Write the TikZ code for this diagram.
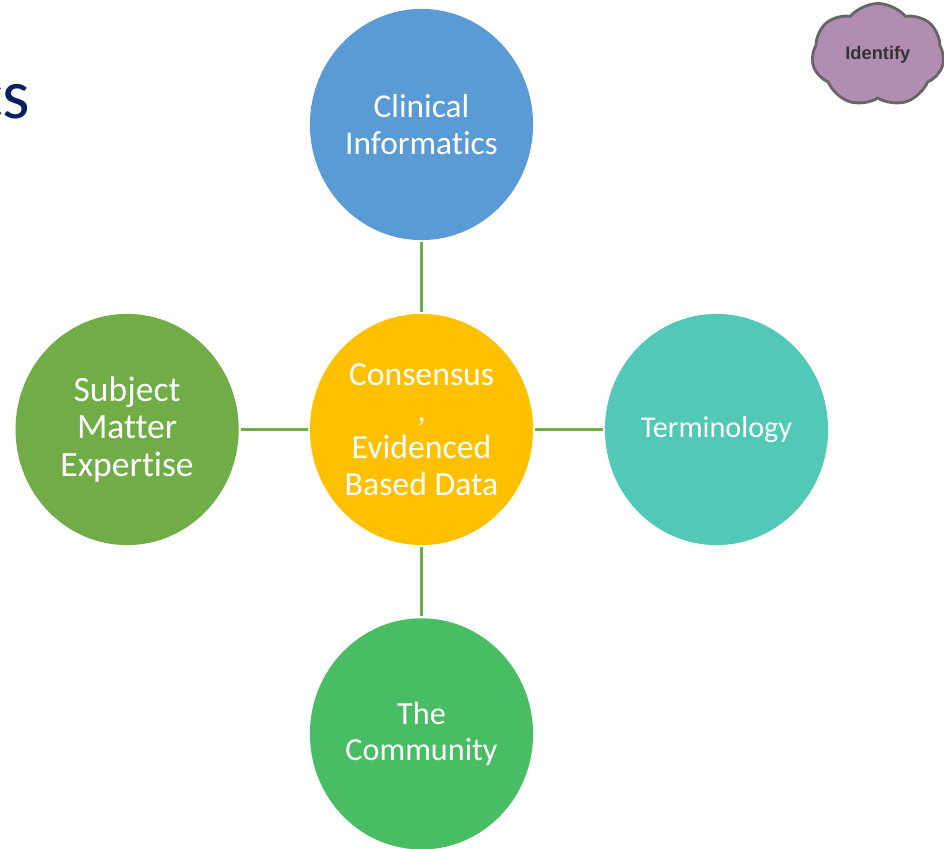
\documentclass[tikz,border=0pt]{standalone}
\usepackage{fontspec}
\setmainfont[Ligatures=NoCommon]{Carlito}
\newfontfamily\cloudfont{Liberation Sans}
\usetikzlibrary{shapes.geometric,shapes.symbols}
\definecolor{clinicalblue}{HTML}{5B9BD5}
\definecolor{matgreen}{HTML}{70AD47}
\definecolor{coreyellow}{HTML}{FFC000}
\definecolor{termteal}{HTML}{52C9B6}
\definecolor{commgreen}{HTML}{49BD63}
\definecolor{cloudpurple}{HTML}{B28DB2}
\definecolor{titleblue}{HTML}{002060}
\tikzset{
  topic/.style={ellipse,minimum width=5.58cm,minimum height=5.78cm,inner sep=0pt,outer sep=0pt,
    text=white,align=center,font=\fontsize{23.7}{25.8}\selectfont},
  spoke/.style={draw=matgreen,line width=2pt,shorten >=1.5pt,shorten <=1.5pt}
}
\begin{document}
\begin{tikzpicture}[auto]
            \useasboundingbox (-10.5375,-10.4875) rectangle (13.0625,10.7375);

            % Nodes
            \node[topic,fill=coreyellow,font=\fontsize{24}{26.2}\selectfont] (consensus) at (0,0) {Consensus\\,\\Evidenced\\Based Data};
            \node[topic,fill=clinicalblue] (clinical) at (0,7.625) {Clinical\\Informatics};
            \node[topic,fill=matgreen,font=\fontsize{25.3}{27}\selectfont] (subject) at (-7.36,0) {Subject\\Matter\\Expertise};
            \node[topic,fill=termteal,font=\fontsize{21.5}{24}\selectfont] (terminology) at (7.375,0) {Terminology};
            \node[topic,fill=commgreen,font=\fontsize{22.9}{25.5}\selectfont] (community) at (0,-7.61) {The\\Community};

            % Title and cloud
            \node[anchor=base east,text=titleblue,inner sep=0pt,font=\fontsize{50}{54}\selectfont] (title) at (-9.77,7.77) {cs};
            \node[cloud,cloud puffs=7,cloud puff arc=100,aspect=1.25,minimum width=3.3cm,minimum height=2.58cm,inner sep=0pt,
              fill=cloudpurple,draw=black!60,line width=2pt,text=black!80,font=\cloudfont\bfseries\fontsize{13}{15}\selectfont] (cloud) at (11.41,9.36) {Identify};

            % Arrows
            \draw[spoke] (consensus) to (clinical);
            \draw[spoke] (consensus) to (subject);
            \draw[spoke] (consensus) to (terminology);
            \draw[spoke] (consensus) to (community);
          \end{tikzpicture}
\end{document}
